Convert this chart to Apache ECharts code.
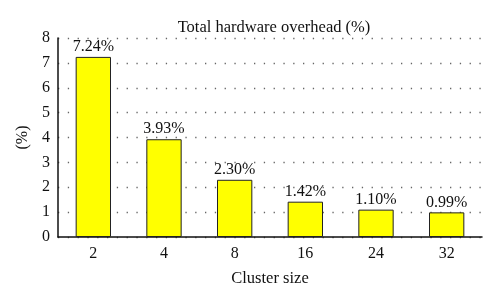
<!DOCTYPE html>
<html><head><meta charset="utf-8">
<script src="https://cdn.jsdelivr.net/npm/echarts@6/dist/echarts.min.js"></script>
<style>html,body{margin:0;padding:0;background:#fff}#c{width:500px;height:299px}</style>
</head><body><div id="c"></div>
<script>
const categories = ['2', '4', '8', '16', '24', '32'];
const values = [7.24, 3.93, 2.30, 1.42, 1.10, 0.99];
const yTicks = [0, 1, 2, 3, 4, 5, 6, 7, 8];
const font = '"Liberation Serif", "DejaVu Serif", serif';
const chart = echarts.init(document.getElementById('c'), null, {renderer: 'canvas'});
chart.setOption({
  animation: false,
  backgroundColor: '#fff',
  title: {
    text: 'Total hardware overhead (%)', left: 269, top: 14, textAlign: 'center',
    textStyle: {fontFamily: font, fontSize: 16.5, fontWeight: 'normal', color: '#111'}
  },
  grid: {left: 58, right: 18, top: 38, bottom: 62},
  xAxis: {
    type: 'category', data: categories,
    name: 'Cluster size', nameLocation: 'middle', nameGap: 33,
    nameTextStyle: {fontFamily: font, fontSize: 16.5, color: '#111'},
    axisLine: {lineStyle: {color: '#111', width: 1.5}},
    axisTick: {show: false},
    axisLabel: {fontFamily: font, fontSize: 16, color: '#111', margin: 9}
  },
  yAxis: {
    type: 'value', min: yTicks[0], max: yTicks[yTicks.length - 1], interval: 1,
    name: '(%)', nameLocation: 'middle', nameGap: 27, nameRotate: 90,
    nameTextStyle: {fontFamily: font, fontSize: 16, color: '#111'},
    axisLine: {show: true, lineStyle: {color: '#111', width: 1.5}},
    axisTick: {show: false},
    axisLabel: {fontFamily: font, fontSize: 16, color: '#111', margin: 8},
    splitLine: {show: true, lineStyle: {color: '#666', width: 1.3, type: [1.3, 8.5]}}
  },
  series: [{
    type: 'bar', data: values, barWidth: '50%',
    itemStyle: {color: '#ffff00', borderColor: '#222', borderWidth: 1},
    label: {
      show: true, position: 'top', distance: 2,
      formatter: p => p.value.toFixed(2) + '%',
      fontFamily: font, fontSize: 16, color: '#111'
    }
  }]
});
</script></body></html>
